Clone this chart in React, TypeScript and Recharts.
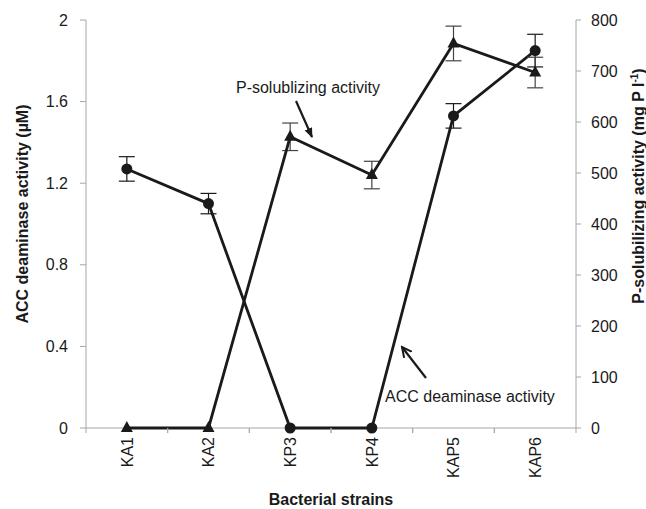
import React from "react";
import {
  ComposedChart,
  Line,
  XAxis,
  YAxis,
  ErrorBar,
  Customized,
  Label,
} from "recharts";

const strains = ["KA1", "KA2", "KP3", "KP4", "KAP5", "KAP6"];
const accValues = [1.27, 1.1, 0, 0, 1.53, 1.85];
const accErrors = [0.06, 0.05, 0, 0, 0.06, 0.08];
const pValues = [0, 0, 571, 496, 754, 697];
const pErrors = [0, 0, 27, 27, 34, 30];
const leftTicks = [0, 0.4, 0.8, 1.2, 1.6, 2];
const rightTicks = [0, 100, 200, 300, 400, 500, 600, 700, 800];

const data = strains.map((s, i) => ({
  strain: s,
  acc: accValues[i],
  accErr: accErrors[i],
  p: pValues[i],
  pErr: pErrors[i],
}));

const FONT = "'Liberation Sans', Arial, Helvetica, sans-serif";
const INK = "#1a1a1a";
const AXIS = "#a6a6a6";
const HALF_BAND = 490 / 6 / 2;

const XTick = (props: any) => {
  const { x, payload } = props;
  return (
    <g>
      <line x1={x - HALF_BAND} x2={x - HALF_BAND} y1={428} y2={433} stroke={AXIS} />
      <line x1={x + HALF_BAND} x2={x + HALF_BAND} y1={428} y2={433} stroke={AXIS} />
      <g transform={`translate(${x},${437})`}>
        <text
          x={0}
          y={0}
          dy="0.36em"
          textAnchor="end"
          transform="rotate(-90)"
          fontFamily={FONT}
          fontSize={16}
          fill={INK}
        >
          {payload.value}
        </text>
      </g>
    </g>
  );
};

const CircleDot = (props: any) => {
  const { cx, cy, index } = props;
  if (cx == null || cy == null) return <g key={`c${index}`} />;
  return <circle key={`c${index}`} cx={cx} cy={cy} r={5.5} fill={INK} stroke="none" />;
};

const TriDot = (props: any) => {
  const { cx, cy, index } = props;
  if (cx == null || cy == null) return <g key={`t${index}`} />;
  return (
    <path
      key={`t${index}`}
      d={`M${cx},${cy - 7} L${cx + 6},${cy + 4} L${cx - 6},${cy + 4} Z`}
      fill={INK}
      stroke="none"
    />
  );
};

const BaseLine = (props: any) => {
  const off = props.offset || {};
  const left = off.left ?? 86;
  const top = off.top ?? 20;
  const w = off.width ?? 490;
  const h = off.height ?? 408;
  return (
    <line x1={left} x2={left + w} y1={top + h} y2={top + h} stroke={AXIS} strokeWidth={1} />
  );
};

const Annotations = () => (
  <g>
    <defs>
      <marker id="filledHead" markerWidth="10" markerHeight="10" refX="9" refY="5" orient="auto" markerUnits="userSpaceOnUse">
        <path d="M0,1 L10,5 L0,9 Z" fill={INK} />
      </marker>
      <marker id="openHead" markerWidth="12" markerHeight="12" refX="10" refY="6" orient="auto" markerUnits="userSpaceOnUse">
        <path d="M0,1 L10,6 L0,11" fill="none" stroke={INK} strokeWidth={2} />
      </marker>
    </defs>
    <text x={308} y={93} textAnchor="middle" fontFamily={FONT} fontSize={16} fill={INK}>
      P-solublizing activity
    </text>
    <line x1={296} y1={101} x2={312} y2={137} stroke={INK} strokeWidth={2.2} markerEnd="url(#filledHead)" />
    <text x={385} y={402} textAnchor="start" fontFamily={FONT} fontSize={16} fill={INK}>
      ACC deaminase activity
    </text>
    <line x1={426} y1={378} x2={402} y2={347} stroke={INK} strokeWidth={2.2} markerEnd="url(#openHead)" />
  </g>
);

export default function App() {
  return (
    <div style={{ position: "absolute", left: 0, top: 0, background: "#fff" }}>
      <ComposedChart
        width={646}
        height={509}
        data={data}
        margin={{ top: 20, right: 10, bottom: 11, left: 26 }}
      >
        <Customized component={BaseLine} />
        <XAxis
          dataKey="strain"
          height={70}
          axisLine={false}
          tickLine={false}
          tick={<XTick />}
          interval={0}
          padding={{ left: HALF_BAND, right: HALF_BAND }}
        >
          <Label
            value="Bacterial strains"
            position="insideBottom"
            offset={-7}
            style={{ fontFamily: FONT, fontSize: 16, fontWeight: "bold", fill: INK }}
          />
        </XAxis>
        <YAxis
          yAxisId="left"
          width={60}
          domain={[0, 2]}
          ticks={leftTicks}
          stroke={AXIS}
          tickSize={6}
          tickMargin={12}
          tick={{ fontFamily: FONT, fontSize: 16, fill: INK }}
          tickFormatter={(v: number) => String(v)}
        >
          <Label
            value="ACC deaminase activity (µM)"
            angle={-90}
            position="insideLeft"
            offset={-4}
            dy={-10}
            style={{ textAnchor: "middle", fontFamily: FONT, fontSize: 16, fontWeight: "bold", fill: INK }}
          />
        </YAxis>
        <YAxis
          yAxisId="right"
          orientation="right"
          width={60}
          domain={[0, 800]}
          ticks={rightTicks}
          stroke={AXIS}
          tickSize={5}
          tickMargin={10}
          tick={{ fontFamily: FONT, fontSize: 16, fill: INK }}
        >
          <Label
            position="insideRight"
            content={(p: any) => {
              const vb = p.viewBox || {};
              const cx = (vb.x || 0) + (vb.width || 0) + 8;
              const cy = 186;
              return (
                <text
                  transform={`translate(${cx},${cy}) rotate(-90)`}
                  textAnchor="middle"
                  fontFamily={FONT}
                  fontSize={16}
                  fontWeight="bold"
                  fill={INK}
                >
                  P-solubilizing activity (mg P l
                  <tspan dy={-6} fontSize={10}>-1</tspan>
                  <tspan dy={6}>)</tspan>
                </text>
              );
            }}
          />
        </YAxis>
        <Line
          yAxisId="left"
          dataKey="acc"
          stroke={INK}
          strokeWidth={2.8}
          dot={CircleDot}
          activeDot={false}
          isAnimationActive={false}
        >
          <ErrorBar dataKey="accErr" width={8} stroke={INK} strokeWidth={1.2} />
        </Line>
        <Line
          yAxisId="right"
          dataKey="p"
          stroke={INK}
          strokeWidth={2.8}
          dot={TriDot}
          activeDot={false}
          isAnimationActive={false}
        >
          <ErrorBar dataKey="pErr" width={8} stroke="#444" strokeWidth={1.2} />
        </Line>
        <Customized component={Annotations} />
      </ComposedChart>
    </div>
  );
}
